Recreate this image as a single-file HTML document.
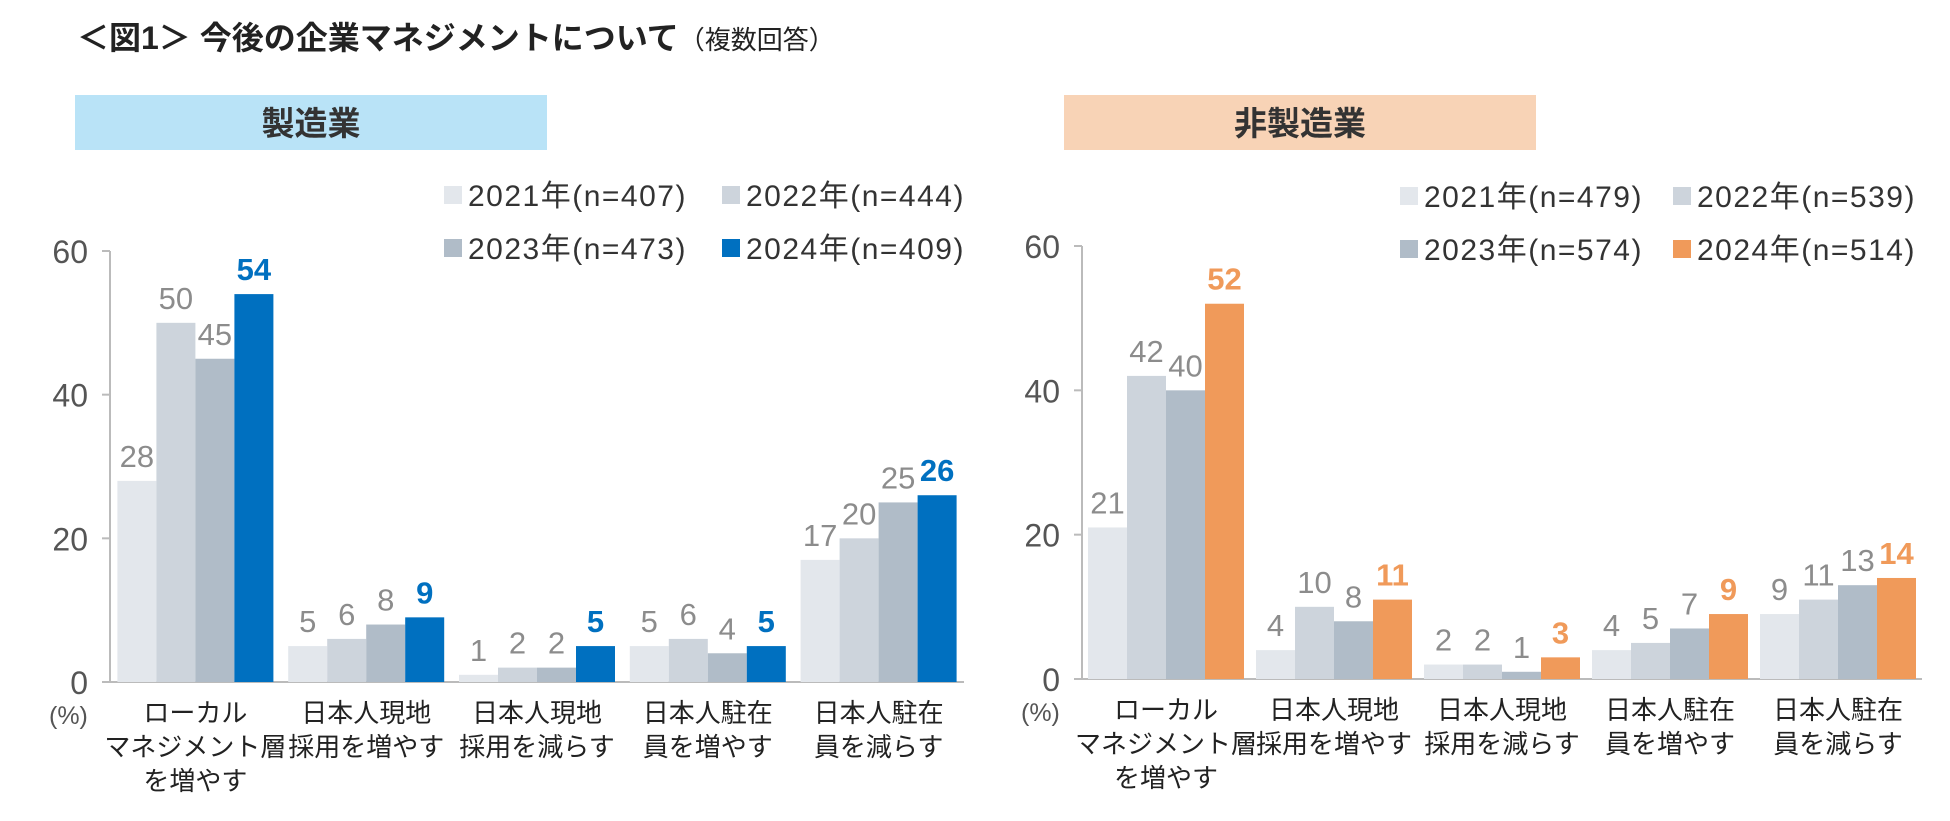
<!DOCTYPE html>
<html><head><meta charset="utf-8"><style>
body{margin:0;width:1950px;height:816px;background:#fff;overflow:hidden;font-family:"Liberation Sans","Noto Sans CJK JP",sans-serif;}
</style></head><body>
<svg id="svg" width="1950" height="816" xmlns="http://www.w3.org/2000/svg" style="font-family:'Liberation Sans','Noto Sans CJK JP',sans-serif">
<text x="77" y="49" font-size="32" font-weight="bold" fill="#222">＜図1＞ 今後の企業マネジメントについて<tspan font-size="26" font-weight="normal">（複数回答）</tspan></text>
<rect x="75" y="95" width="472" height="55" fill="#b9e3f7"/>
<text x="311" y="135" font-size="33" font-weight="bold" text-anchor="middle" fill="#333">製造業</text>
<rect x="1064" y="95" width="472" height="55" fill="#f8d3b6"/>
<text x="1300" y="135" font-size="33" font-weight="bold" text-anchor="middle" fill="#333">非製造業</text>
<g id="g"></g>
</svg>
<script>
const categories=[["ローカル","マネジメント層","を増やす"],["日本人現地","採用を増やす"],["日本人現地","採用を減らす"],["日本人駐在","員を増やす"],["日本人駐在","員を減らす"]];
const yTicks=[0,20,40,60];
const mfgSeries=["2021年(n=407)","2022年(n=444)","2023年(n=473)","2024年(n=409)"];
const mfg2021=[28,5,1,5,17];
const mfg2022=[50,6,2,6,20];
const mfg2023=[45,8,2,4,25];
const mfg2024=[54,9,5,5,26];
const nonSeries=["2021年(n=479)","2022年(n=539)","2023年(n=574)","2024年(n=514)"];
const non2021=[21,4,2,4,9];
const non2022=[42,10,2,5,11];
const non2023=[40,8,1,7,13];
const non2024=[52,11,3,9,14];
const ns="http://www.w3.org/2000/svg";
const G=document.getElementById('g');
function el(t,a,txt){const e=document.createElementNS(ns,t);for(const k in a)e.setAttribute(k,a[k]);if(txt!==undefined)e.textContent=txt;G.appendChild(e);return e;}
function chart(cfg){
  const {x0,x1,y0,y60,series,names,last,prefix,legX,legY}=cfg;
  const y=v=>y0-(y0-y60)*v/60;
  const gw=(x1-x0)/5, bw=39;
  const colors=["#e3e7ec","#cdd4dc","#b0bcc8",last];
  let e=el('line',{x1:x0,y1:y(60),x2:x0,y2:y0,stroke:'#bbb','stroke-width':2});
  
  e=el('line',{x1:x0,y1:y0,x2:x1,y2:y0,stroke:'#bbb','stroke-width':2});
  
  yTicks.forEach(t=>{
    let l=el('line',{x1:x0-8,y1:y(t),x2:x0,y2:y(t),stroke:'#bbb','stroke-width':2});
    
    let tx=el('text',{x:x0-22,y:y(t)+12,'font-size':32,fill:'#555','text-anchor':'end'},String(t));
    
  });
  let pc=el('text',{x:x0-61,y:y0+42,'font-size':25,fill:'#555'},'(%)');
  
  categories.forEach((c,i)=>{
    const cx=x0+gw*(i+0.5);
    series.forEach((s,j)=>{
      const bx=cx-2*bw+j*bw;
      let r=el('rect',{x:bx,y:y(s[i]),width:bw,height:y0-y(s[i]),fill:colors[j]});
      
      const bold=j==3;
      let t=el('text',{x:bx+bw/2,y:y(s[i])-14,'font-size':31,'text-anchor':'middle',fill:bold?last:'#8c8c8c','font-weight':bold?'bold':'normal'},String(s[i]));
      
    });
    c.forEach((line,k)=>{
      let t=el('text',{x:cx,y:y0+40+k*34,'font-size':26,'text-anchor':'middle',fill:'#222'},line);
      
    });
  });
  names.forEach((n,j)=>{
    const lx=legX[j%2], ly=legY[Math.floor(j/2)];
    let r=el('rect',{x:lx,y:ly-9,width:18,height:18,fill:colors[j]});
    
    let t=el('text',{x:lx+24,y:ly+11,'font-size':30,'letter-spacing':1.5,fill:'#333'},n);
    
  });
}
chart({x0:110,x1:964,y0:682,y60:251,series:[mfg2021,mfg2022,mfg2023,mfg2024],names:mfgSeries,last:'#0070c0',prefix:'manufacturing',legX:[444,722],legY:[195,248]});
chart({x0:1082,x1:1922,y0:679,y60:246,series:[non2021,non2022,non2023,non2024],names:nonSeries,last:'#f09a5a',prefix:'non-manufacturing',legX:[1400,1673],legY:[196,249]});
</script>
</body></html>
